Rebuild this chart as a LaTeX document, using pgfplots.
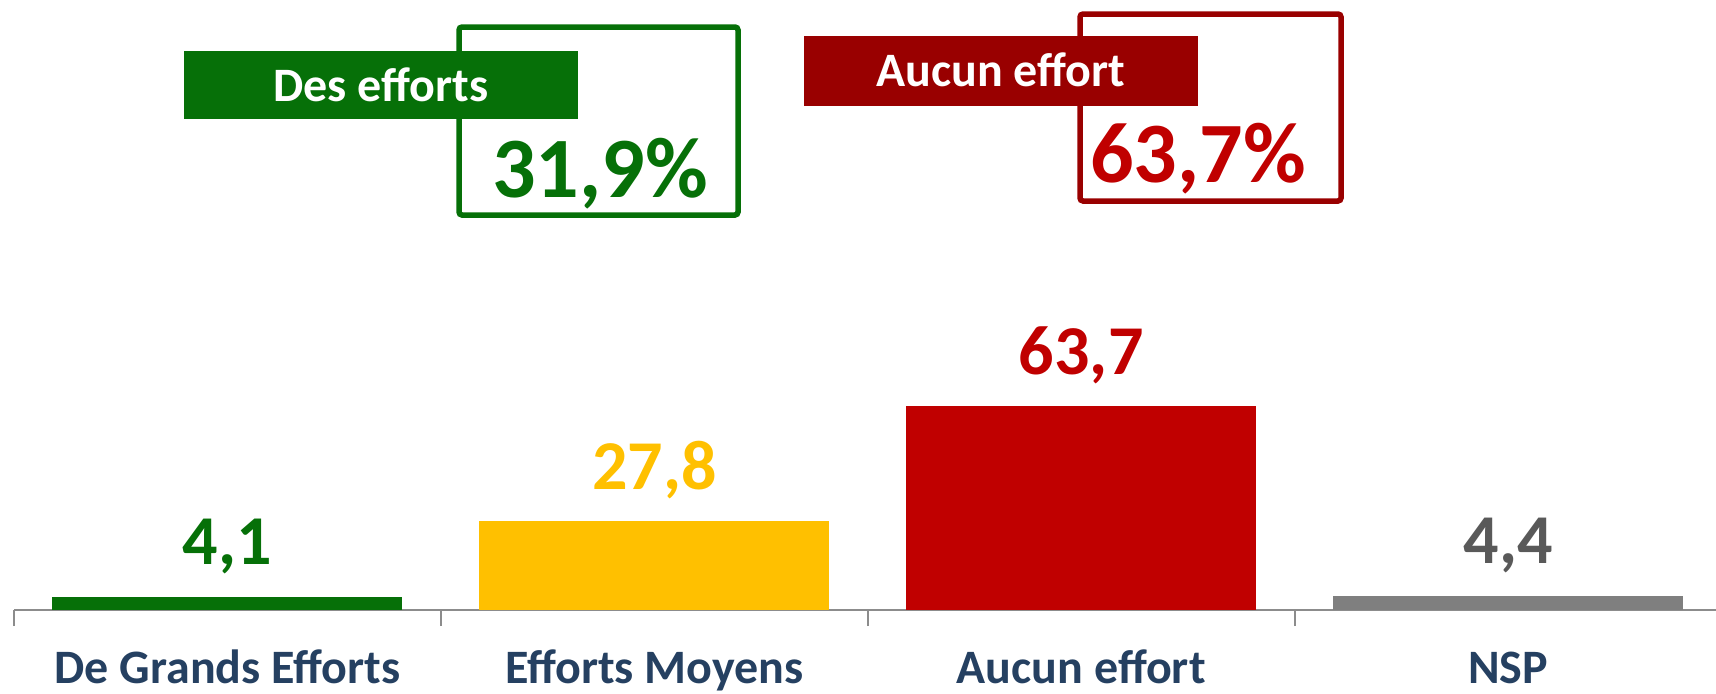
\documentclass[border=0pt]{standalone}
\usepackage{fontspec}
\setmainfont{Carlito}
\usepackage{pgfplots}
\pgfplotsset{compat=1.18}
\definecolor{cgreen}{HTML}{067008}
\definecolor{cyellow}{HTML}{FFC000}
\definecolor{cred}{HTML}{C00000}
\definecolor{cdarkred}{HTML}{990000}
\definecolor{cgray}{HTML}{7F7F7F}
\definecolor{cgraytext}{HTML}{595959}
\definecolor{labblue}{HTML}{254061}
\definecolor{axisgray}{HTML}{8C8C8C}
\begin{document}
\begin{tikzpicture}
\useasboundingbox (0,0) rectangle (858pt,346.5pt);
\begin{axis}[
  at={(7pt,41.5pt)}, anchor=south west,
  width=851pt, height=305pt, scale only axis,
  xmin=-0.5, xmax=3.487, ymin=0, ymax=190.6,
  clip=false,
  axis x line*=bottom, axis y line=none,
  axis line style={draw=axisgray, line width=1pt, -},
  ybar, bar width=0.82, bar shift=0pt,
  xtick={0,1,2,3},
  xticklabels={De Grands Efforts, Efforts Moyens, Aucun effort, NSP},
  major tick length=0pt,
  tick align=outside,
  tick style={draw=axisgray, line width=1pt},
  extra x ticks={-0.5,0.5,1.5,2.5},
  extra x tick labels={},
  extra x tick style={major tick length=8pt, tick align=outside},
  xticklabel style={font=\fontsize{24}{28}\selectfont\bfseries, text=labblue, anchor=base, yshift=-36.5pt},
  nodes near coords,
  every node near coord/.append style={font=\fontsize{35}{40}\selectfont\bfseries, anchor=base, yshift=16pt},
  /pgf/number format/.cd, use comma, fixed, fixed zerofill, precision=1, assume math mode=true,
]
\addplot[fill=cgreen, draw=none, every node near coord/.append style={text=cgreen}] coordinates {(0,4.1)};
\addplot[fill=cyellow, draw=none, every node near coord/.append style={text=cyellow}] coordinates {(1,27.8)};
\addplot[fill=cred, draw=none, every node near coord/.append style={text=cred}] coordinates {(2,63.7)};
\addplot[fill=cgray, draw=none, every node near coord/.append style={text=cgraytext}] coordinates {(3,4.4)};
\end{axis}
% annotation boxes
\draw[cgreen, line width=2.75pt, rounded corners=1.5pt] (229.5pt,239pt) rectangle (369pt,333pt);
\fill[cgreen] (92pt,287pt) rectangle (289pt,321pt);
\node[anchor=base, text=white, font=\fontsize{24}{28}\selectfont\bfseries] at (190.5pt,296pt) {Des efforts};
\node[anchor=base, text=cgreen, font=\fontsize{43}{48}\selectfont\bfseries] at (300pt,248pt) {31,9\%};
\draw[cdarkred, line width=2.75pt, rounded corners=1.5pt] (540pt,246pt) rectangle (670.5pt,339.5pt);
\fill[cdarkred] (402pt,293.5pt) rectangle (599pt,328.5pt);
\node[anchor=base, text=white, font=\fontsize{24}{28}\selectfont\bfseries] at (500.5pt,303.5pt) {Aucun effort};
\node[anchor=base, text=cred, font=\fontsize{43}{48}\selectfont\bfseries] at (599pt,255.5pt) {63,7\%};
\end{tikzpicture}
\end{document}
